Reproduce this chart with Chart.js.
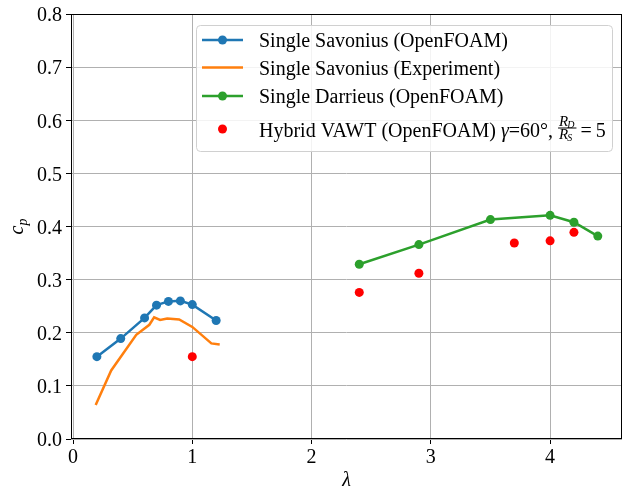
<!DOCTYPE html>
<html>
<head>
<meta charset="utf-8">
<script src="https://cdn.jsdelivr.net/npm/chart.js@4.4.0/dist/chart.umd.min.js"></script>
<style>
  html, body { margin: 0; padding: 0; background: #fff; }
</style>
</head>
<body>
<canvas id="cp" width="623" height="490"></canvas>
<script>
// power coefficient vs tip speed ratio
const savoniusTsr = [0.2, 0.4, 0.6, 0.7, 0.8, 0.9, 1.0, 1.2]
const savoniusCp  = [0.155, 0.189, 0.228, 0.252, 0.259, 0.260, 0.253, 0.223]

const expTsr = [0.19, 0.32, 0.53, 0.64, 0.68, 0.73, 0.79, 0.89, 1.0, 1.16, 1.23]
const expCp  = [0.064, 0.129, 0.196, 0.215, 0.229, 0.224, 0.227, 0.225, 0.211, 0.180, 0.178]

const darrieusTsr = [2.4, 2.9, 3.5, 4.0, 4.2, 4.4]
const darrieusCp  = [0.329, 0.366, 0.413, 0.421, 0.408, 0.382]

const hybridTsr = [1.0, 2.4, 2.9, 3.7, 4.0, 4.2]
const hybridCp  = [0.155, 0.276, 0.312, 0.369, 0.373, 0.389]

const xTicks = [0, 1, 2, 3, 4]
const yTicks = [0, 0.1, 0.2, 0.3, 0.4, 0.5, 0.6, 0.7, 0.8]

const FONT = '"Liberation Serif", "Times New Roman", serif'
const BLUE = '#1f77b4', ORANGE = '#ff7f0e', GREEN = '#2ca02c', RED = '#ff0000'

const pts = (xs, ys) => xs.map((x, i) => ({ x, y: ys[i] }))

function roundRect(ctx, x0, y0, x1, y1, r) {
  ctx.beginPath()
  ctx.moveTo(x0 + r, y0)
  ctx.lineTo(x1 - r, y0)
  ctx.quadraticCurveTo(x1, y0, x1, y0 + r)
  ctx.lineTo(x1, y1 - r)
  ctx.quadraticCurveTo(x1, y1, x1 - r, y1)
  ctx.lineTo(x0 + r, y1)
  ctx.quadraticCurveTo(x0, y1, x0, y1 - r)
  ctx.lineTo(x0, y0 + r)
  ctx.quadraticCurveTo(x0, y0, x0 + r, y0)
  ctx.closePath()
}

function drawLegend(ctx) {
  ctx.save()
  roundRect(ctx, 196.5, 25.5, 612.5, 151.5, 4)
  ctx.fillStyle = 'rgba(255,255,255,0.85)'
  ctx.fill()
  ctx.strokeStyle = '#d0d0d0'
  ctx.lineWidth = 1
  ctx.stroke()

  const rows = [
    { y: 40,   color: BLUE,   line: true,  dot: true,  text: 'Single Savonius (OpenFOAM)' },
    { y: 67.5, color: ORANGE, line: true,  dot: false, text: 'Single Savonius (Experiment)' },
    { y: 96,   color: GREEN,  line: true,  dot: true,  text: 'Single Darrieus (OpenFOAM)' },
    { y: 129,  color: RED,    line: false, dot: true,  text: null },
  ]
  rows.forEach(r => {
    if (r.line) {
      ctx.strokeStyle = r.color
      ctx.lineWidth = 2.5
      ctx.beginPath()
      ctx.moveTo(202, r.y)
      ctx.lineTo(243, r.y)
      ctx.stroke()
    }
    if (r.dot) {
      ctx.fillStyle = r.color
      ctx.beginPath()
      ctx.arc(222.5, r.y, 4.5, 0, Math.PI * 2)
      ctx.fill()
    }
    if (r.text) {
      ctx.fillStyle = '#000'
      ctx.font = '20px ' + FONT
      ctx.textBaseline = 'alphabetic'
      ctx.fillText(r.text, 259, r.y + 7)
    }
  })

  // hybrid entry with math: gamma=60°, R_D/R_S = 5
  const base = 136.5
  let x = 259
  ctx.fillStyle = '#000'
  ctx.textBaseline = 'alphabetic'
  ctx.font = '20px ' + FONT
  const t1 = 'Hybrid VAWT (OpenFOAM) '
  ctx.fillText(t1, x, base)
  x += ctx.measureText(t1).width
  ctx.font = 'italic 20px ' + FONT
  ctx.fillText('γ', x, base)
  x += ctx.measureText('γ').width
  ctx.font = '20px ' + FONT
  const t2 = '=60°, '
  ctx.fillText(t2, x, base)
  x += ctx.measureText(t2).width

  const fx0 = x, bar = 128
  const frac = (sub, by) => {
    ctx.font = 'italic 15px ' + FONT
    const w = ctx.measureText('R').width
    ctx.fillText('R', fx0 + 1, by)
    ctx.font = 'italic 10px ' + FONT
    ctx.fillText(sub, fx0 + 1 + w - 1, by + 2)
    return w + ctx.measureText(sub).width
  }
  const wNum = frac('D', 126)
  const wDen = frac('S', 139)
  const fw = Math.max(wNum, wDen) + 2
  ctx.fillRect(fx0, bar - 0.5, fw, 1)
  x = fx0 + fw + 4
  ctx.font = '20px ' + FONT
  ctx.fillText('=', x, base)
  x += ctx.measureText('=').width + 4
  ctx.fillText('5', x, base)
  ctx.restore()
}

const decorations = {
  id: 'decorations',
  afterDatasetsDraw(chart) {
    const { ctx, chartArea: a } = chart
    ctx.save()
    ctx.strokeStyle = '#000'
    ctx.lineWidth = 1
    ctx.strokeRect(a.left + 0.5, a.top + 0.5, a.right - a.left - 1, a.bottom - a.top - 1)
    ctx.restore()
  },
  afterDraw(chart) {
    const { ctx, chartArea: a } = chart
    ctx.save()
    ctx.fillStyle = '#000'
    ctx.textBaseline = 'alphabetic'

    // x axis title
    ctx.font = 'italic 20px ' + FONT
    ctx.textAlign = 'center'
    ctx.fillText('λ', (a.left + a.right) / 2, 486)

    // y axis title c_p
    ctx.translate(23, (a.top + a.bottom) / 2)
    ctx.rotate(-Math.PI / 2)
    ctx.textAlign = 'left'
    ctx.font = 'italic 20px ' + FONT
    const wc = ctx.measureText('c').width
    ctx.font = 'italic 14px ' + FONT
    const wp = ctx.measureText('p').width
    const sx = -(wc + wp) / 2
    ctx.font = 'italic 20px ' + FONT
    ctx.fillText('c', sx, 0)
    ctx.font = 'italic 14px ' + FONT
    ctx.fillText('p', sx + wc, 4)
    ctx.restore()

    drawLegend(ctx)
  },
}

const lineSet = (label, data, color, dots, order) => ({
  label, data, order,
  showLine: true,
  borderColor: color,
  backgroundColor: color,
  borderWidth: 2.5,
  pointRadius: dots ? 4.5 : 0,
  pointBorderWidth: 0,
  pointBackgroundColor: color,
  tension: 0,
})

const gridOpts = {
  color: '#b0b0b0',
  lineWidth: 1,
  tickColor: '#000',
  tickLength: 5,
  tickWidth: 1,
}

new Chart(document.getElementById('cp'), {
  type: 'scatter',
  data: {
    datasets: [
      lineSet('Single Savonius (OpenFOAM)', pts(savoniusTsr, savoniusCp), BLUE, true, 3),
      lineSet('Single Savonius (Experiment)', pts(expTsr, expCp), ORANGE, false, 2),
      lineSet('Single Darrieus (OpenFOAM)', pts(darrieusTsr, darrieusCp), GREEN, true, 1),
      {
        label: 'Hybrid VAWT (OpenFOAM)',
        data: pts(hybridTsr, hybridCp),
        order: 0,
        showLine: false,
        pointRadius: 4.5,
        pointBorderWidth: 0,
        pointBackgroundColor: RED,
        backgroundColor: RED,
      },
    ],
  },
  options: {
    responsive: false,
    animation: false,
    events: [],
    layout: { autoPadding: false, padding: { left: 0, top: 14, right: 1, bottom: 0 } },
    plugins: { legend: { display: false }, tooltip: { enabled: false } },
    scales: {
      x: {
        type: 'linear',
        min: -0.017,
        max: 4.603,
        afterBuildTicks: s => { s.ticks = xTicks.map(v => ({ value: v })) },
        afterFit: s => { s.height = 51; s.paddingLeft = 0; s.paddingRight = 0 },
        grid: gridOpts,
        border: { display: false },
        ticks: {
          color: '#000',
          font: { family: FONT, size: 20 },
          padding: 2,
          maxRotation: 0,
          callback: v => String(v),
        },
      },
      y: {
        type: 'linear',
        min: 0,
        max: 0.8,
        afterBuildTicks: s => { s.ticks = yTicks.map(v => ({ value: v })) },
        afterFit: s => { s.width = 71; s.paddingTop = 0; s.paddingBottom = 0 },
        grid: gridOpts,
        border: { display: false },
        ticks: {
          color: '#000',
          font: { family: FONT, size: 20 },
          padding: 4,
          labelOffset: 2,
          callback: v => v.toFixed(1),
        },
      },
    },
  },
  plugins: [decorations],
})
</script>
</body>
</html>
